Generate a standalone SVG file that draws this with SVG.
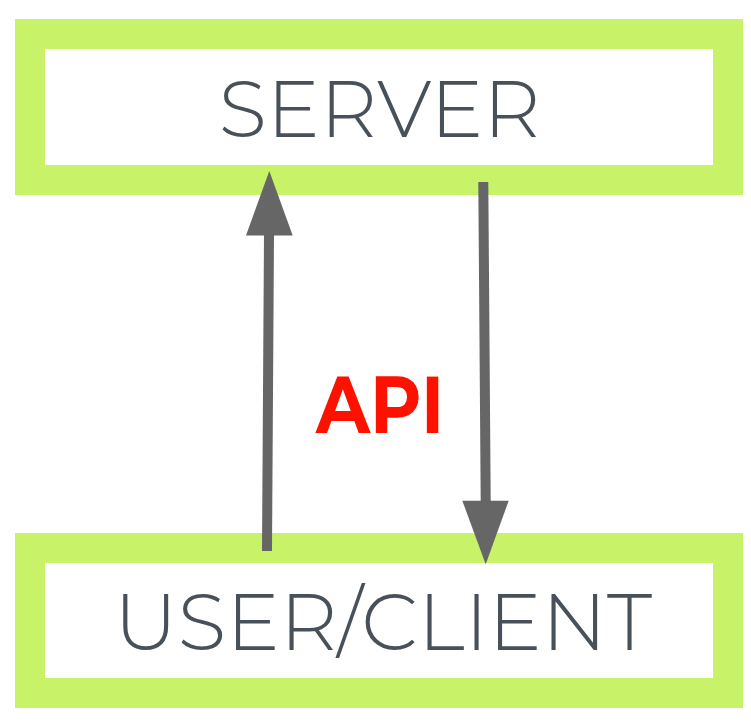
<svg xmlns="http://www.w3.org/2000/svg" width="751" height="723" viewBox="0 0 751 723">
  <style>
    .box { fill: #ffffff; stroke: #c8f368; stroke-width: 30; }
    .label { font-family: "Montserrat", "Lato", "Open Sans", "Liberation Sans", sans-serif; font-weight: 300; font-size: 80px; fill: #48505a; }
    .api { font-family: "Montserrat", "Liberation Sans", "Open Sans", sans-serif; font-weight: 700; font-size: 80px; fill: #ff1100; }
    .shaft { stroke: #666666; stroke-width: 10; fill: none; }
    .head { fill: #666666; }
  </style>
  <rect width="751" height="723" fill="#ffffff"/>
  <g id="server">
    <rect class="box" x="30" y="34" width="698" height="146"/>
    <text class="label" x="379.5" y="137" text-anchor="middle" textLength="322" lengthAdjust="spacingAndGlyphs">SERVER</text>
  </g>
  <g id="client">
    <rect class="box" x="30" y="548" width="698" height="145"/>
    <text class="label" x="383" y="650" text-anchor="middle" textLength="538" lengthAdjust="spacingAndGlyphs">USER/CLIENT</text>
  </g>
  <g id="connectors">
    <line class="shaft" x1="267" y1="551" x2="269" y2="234"/>
    <polygon class="head" points="269.3,171 292.7,235.5 246,235.5"/>
    <line class="shaft" x1="483.3" y1="182" x2="485.7" y2="502"/>
    <polygon class="head" points="462.3,500.7 508.7,500.7 485.7,564.3"/>
  </g>
  <g id="api-label">
    <text class="api" x="380" y="433" text-anchor="middle" textLength="128" lengthAdjust="spacingAndGlyphs">API</text>
  </g>
</svg>
